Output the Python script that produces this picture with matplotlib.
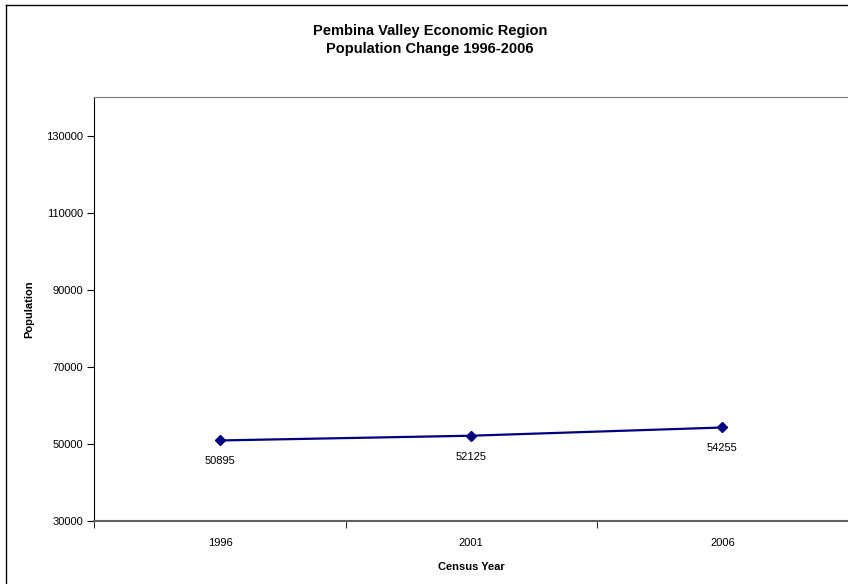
import matplotlib.pyplot as plt
from matplotlib.lines import Line2D

plt.rcParams['font.family'] = ['Liberation Sans', 'DejaVu Sans']

years = ['1996', '2001', '2006']
population = [50895, 52125, 54255]
yticks = [30000, 50000, 70000, 90000, 110000, 130000]

fig = plt.figure(figsize=(8.48, 5.84), dpi=100)
# chart border (only left and top show in the reference crop)
fig.add_artist(Line2D([0.007, 0.007], [0, 0.992], transform=fig.transFigure, color='black', lw=1))
fig.add_artist(Line2D([0.007, 1.0], [0.992, 0.992], transform=fig.transFigure, color='black', lw=1))

ax = fig.add_axes([0.1114, 0.1079, 0.8886, 0.726])
x = list(range(len(years)))
ax.plot(x, population, color='#000080', lw=1.6, marker='D', markersize=5.5)
for xi, v in zip(x, population):
    ax.annotate(str(v), (xi, v), xytext=(0, -15), textcoords='offset points',
                ha='center', va='center', fontsize=8)

ax.set_xlim(-0.5, 2.5)
ax.set_ylim(30000, 140000)
ax.set_yticks(yticks)
ax.set_xticks(x)
ax.set_xticklabels(years)
ax.set_xticks([-0.5, 0.5, 1.5, 2.5], minor=True)
ax.tick_params(axis='x', which='major', length=0, pad=12, labelsize=8)
ax.tick_params(axis='x', which='minor', length=5, direction='out', color='black')
ax.tick_params(axis='y', length=5, direction='out', pad=3, labelsize=8)

ax.spines['top'].set_color('#808080')
ax.spines['bottom'].set_color('#606060')
ax.spines['bottom'].set_linewidth(1.5)
ax.spines['left'].set_color('black')
ax.spines['right'].set_visible(False)

ax.set_xlabel('Census Year', fontsize=8, fontweight='bold', labelpad=10)
ax.set_ylabel('Population', fontsize=8, fontweight='bold', labelpad=9)

fig.text(0.507, 0.931, 'Pembina Valley Economic Region\nPopulation Change 1996-2006',
         ha='center', va='center', fontsize=10.5, fontweight='bold', linespacing=1.35)

fig.savefig('out.png', dpi=100)
